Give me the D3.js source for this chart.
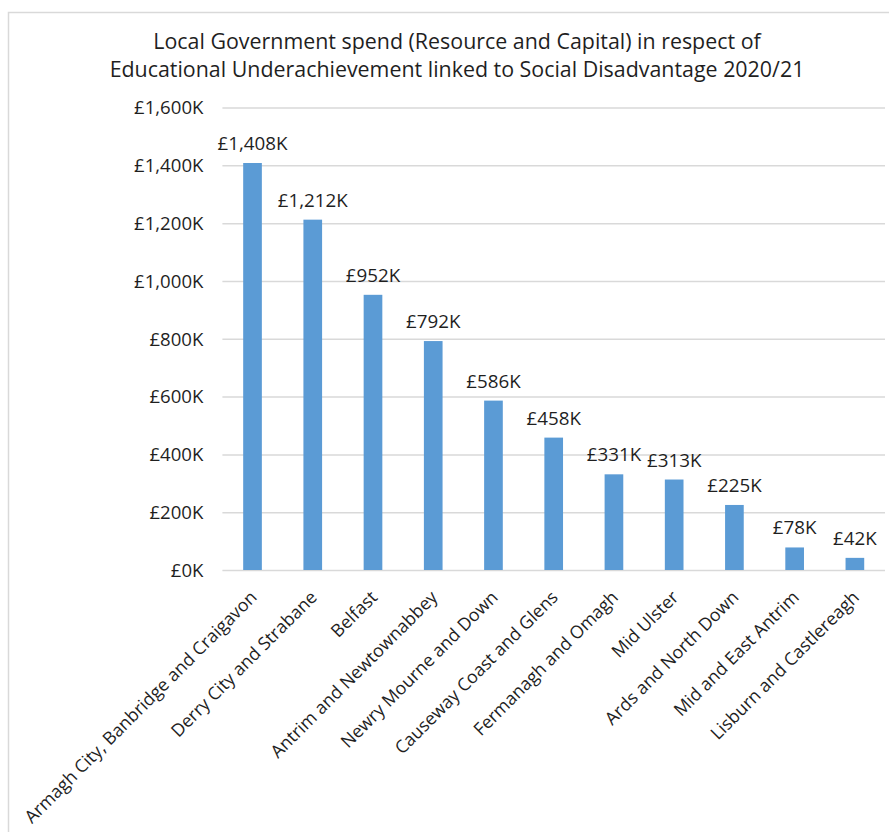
<!DOCTYPE html>
<html>
<head>
<meta charset="utf-8">
<script src="https://cdn.jsdelivr.net/npm/d3@7/dist/d3.min.js"></script>
<style>
  html, body { margin: 0; padding: 0; background: #fff; }
  svg { display: block; }
  text { font-family: "Open Sans", "Noto Sans", sans-serif; fill: #1f1f1f; }
</style>
</head>
<body>
<svg id="chart" width="889" height="832"></svg>
<script>
// Local authority spend, £ thousands
const councils = [
  "Armagh City, Banbridge and Craigavon",
  "Derry City and Strabane",
  "Belfast",
  "Antrim and Newtownabbey",
  "Newry Mourne and Down",
  "Causeway Coast and Glens",
  "Fermanagh and Omagh",
  "Mid Ulster",
  "Ards and North Down",
  "Mid and East Antrim",
  "Lisburn and Castlereagh"
];
const spend = [1408, 1212, 952, 792, 586, 458, 331, 313, 225, 78, 42];
const yTicks = [0, 200, 400, 600, 800, 1000, 1200, 1400, 1600];
const titleLines = [
  "Local Government spend (Resource and Capital) in respect of",
  "Educational Underachievement linked to Social Disadvantage 2020/21"
];

const svg = d3.select("#chart");
const W = 889, H = 832;
const plot = { left: 222.4, right: 885, top: 107.5, bottom: 570 };

svg.append("rect").attr("width", W).attr("height", H).attr("fill", "#fff");

// chart area frame
svg.append("rect")
  .attr("x", 8.5).attr("y", 12.5)
  .attr("width", 1000).attr("height", 1000)
  .attr("fill", "none").attr("stroke", "#d9d9d9").attr("stroke-width", 1.5);

const fmt = d3.format(",");
const money = v => "£" + fmt(v) + "K";

const x = d3.scaleBand()
  .domain(councils)
  .range([plot.left, plot.right])
  .paddingInner(0.69)
  .paddingOuter(0.345);

const y = d3.scaleLinear()
  .domain([0, 1600])
  .range([plot.bottom, plot.top]);

// title
svg.append("g").selectAll("text")
  .data(titleLines)
  .join("text")
  .attr("x", 457)
  .attr("y", (d, i) => 49 + i * 27.5)
  .attr("text-anchor", "middle")
  .style("font-size", "21.4px")
  .text(d => d);

// value axis with gridlines
const yAxis = svg.append("g")
  .attr("transform", `translate(${plot.left},0)`)
  .call(d3.axisLeft(y).tickValues(yTicks).tickFormat(money)
    .tickSize(-(plot.right - plot.left)).tickPadding(19));
yAxis.select(".domain").remove();
yAxis.selectAll(".tick line").attr("stroke", "#d9d9d9").attr("stroke-width", 1.5);
yAxis.selectAll(".tick text")
  .attr("fill", "#1f1f1f")
  .style("font-size", "18.6px")
  .style("font-family", "'Open Sans', sans-serif")
  .attr("dy", "0.34em");

// bars
svg.append("g").selectAll("rect")
  .data(spend)
  .join("rect")
  .attr("x", (d, i) => x(councils[i]))
  .attr("width", x.bandwidth())
  .attr("y", d => y(d))
  .attr("height", d => y(0) - y(d))
  .attr("fill", "#5b9bd5");

// value labels
svg.append("g").selectAll("text")
  .data(spend)
  .join("text")
  .attr("x", (d, i) => x(councils[i]) + x.bandwidth() / 2)
  .attr("y", d => y(d) - 13)
  .attr("text-anchor", "middle")
  .style("font-size", "18.8px")
  .text(d => money(d));

// category labels, rotated
svg.append("g").selectAll("text")
  .data(councils)
  .join("text")
  .attr("transform", d => `translate(${x(d) + x.bandwidth() / 2 + 1},594) rotate(-45)`)
  .attr("text-anchor", "end")
  .attr("dy", "0.35em")
  .style("font-size", "17.8px")
  .text(d => d);
</script>
</body>
</html>
